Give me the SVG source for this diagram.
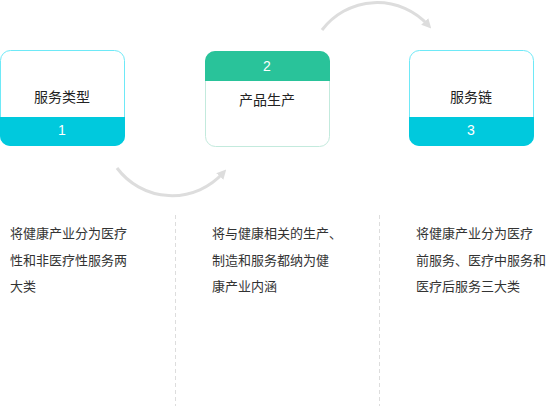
<svg xmlns="http://www.w3.org/2000/svg" width="554" height="406" viewBox="0 0 554 406">
<defs>
<style>
text{font-family:"Liberation Sans","Noto Sans CJK SC",sans-serif;}
.title{font-size:14px;fill:#222;text-anchor:middle;dominant-baseline:central;}
.num{font-size:14px;fill:#fff;text-anchor:middle;dominant-baseline:central;}
.desc{font-size:13px;fill:#333;}
.box1{fill:#fff;stroke:#6ee9f7;stroke-width:1;}
.box2{fill:#fff;stroke:#c3eadd;stroke-width:1;}
.band{fill:#00c9dd;}
.head{fill:#29c39a;}
.arc{fill:none;stroke:#dddddd;stroke-width:3;}
.sep{stroke:#dddddd;stroke-width:1;stroke-dasharray:4 3;}
</style>
<marker id="ah" viewBox="0 0 10 10" refX="5" refY="5" markerWidth="3.2" markerHeight="3.2" orient="auto" markerUnits="strokeWidth">
<path d="M0,0 L10,5 L0,10 z" fill="#dddddd"/>
</marker>
</defs>
<rect width="554" height="406" fill="#fff"/>
<g id="connectors">
<path class="arc" d="M117,168 A68.6,68.6 0 0 0 223,173" marker-end="url(#ah)"/>
<path class="arc" d="M322,30 A69,69 0 0 1 428,25" marker-end="url(#ah)"/>
</g>
<g id="node1">
<rect class="box1" x="0.5" y="50.5" width="124" height="95" rx="10"/>
<path class="band" d="M0,117 H125 V136 A10,10 0 0 1 115,146 H10 A10,10 0 0 1 0,136 Z"/>
<text class="title" x="62" y="97">服务类型</text>
<text class="num" x="62" y="130">1</text>
</g>
<g id="node2">
<rect class="box2" x="205.5" y="51.5" width="124" height="95" rx="10"/>
<path class="head" d="M205,81 V61 A10,10 0 0 1 215,51 H320 A10,10 0 0 1 330,61 V81 Z"/>
<text class="num" x="267" y="66">2</text>
<text class="title" x="267" y="100">产品生产</text>
</g>
<g id="node3">
<rect class="box1" x="409.5" y="50.5" width="124" height="95" rx="10"/>
<path class="band" d="M409,117 H534 V136 A10,10 0 0 1 524,146 H419 A10,10 0 0 1 409,136 Z"/>
<text class="title" x="471" y="97">服务链</text>
<text class="num" x="471" y="130">3</text>
</g>
<g id="separators">
<line class="sep" x1="175.5" y1="215" x2="175.5" y2="406"/>
<line class="sep" x1="379.5" y1="215" x2="379.5" y2="406"/>
</g>
<g id="desc1">
<text class="desc" x="10" y="238">将健康产业分为医疗</text>
<text class="desc" x="10" y="264.5">性和非医疗性服务两</text>
<text class="desc" x="10" y="291">大类</text>
</g>
<g id="desc2">
<text class="desc" x="212" y="238">将与健康相关的生产、</text>
<text class="desc" x="212" y="264.5">制造和服务都纳为健</text>
<text class="desc" x="212" y="291">康产业内涵</text>
</g>
<g id="desc3">
<text class="desc" x="416" y="238">将健康产业分为医疗</text>
<text class="desc" x="416" y="264.5">前服务、医疗中服务和</text>
<text class="desc" x="416" y="291">医疗后服务三大类</text>
</g>
</svg>
